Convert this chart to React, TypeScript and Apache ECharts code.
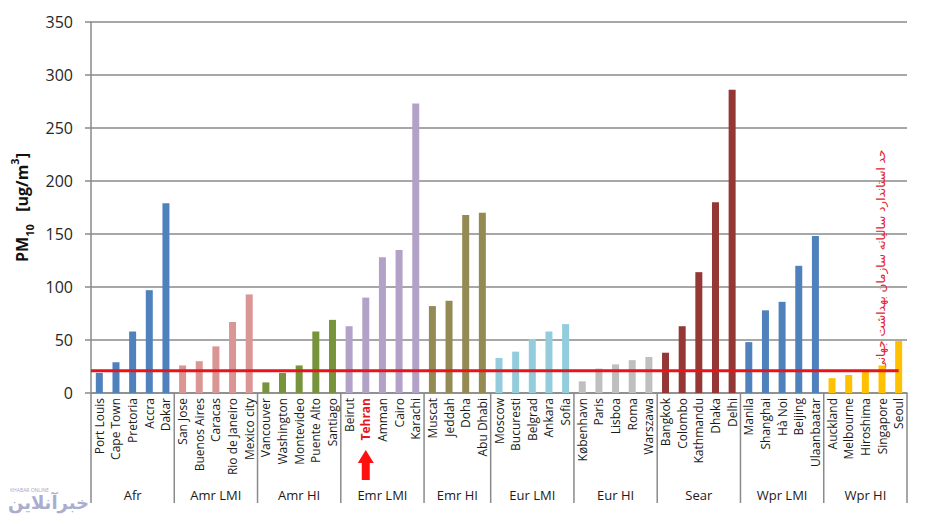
import React, { useEffect, useRef } from 'react';
import * as echarts from 'echarts';

const cities = [
  'Port Louis', 'Cape Town', 'Pretoria', 'Accra', 'Dakar',
  'San Jose', 'Buenos Aires', 'Caracas', 'Rio de Janeiro', 'Mexico city',
  'Vancouver', 'Washington', 'Montevideo', 'Puente Alto', 'Santiago',
  'Beirut', 'Tehran', 'Amman', 'Cairo', 'Karachi',
  'Muscat', 'Jeddah', 'Doha', 'Abu Dhabi',
  'Moscow', 'Bucuresti', 'Belgrad', 'Ankara', 'Sofia',
  'København', 'Paris', 'Lisboa', 'Roma', 'Warszawa',
  'Bangkok', 'Colombo', 'Kathmandu', 'Dhaka', 'Delhi',
  'Manila', 'Shanghai', 'Hà Noi', 'Beijing', 'Ulaanbaatar',
  'Auckland', 'Melbourne', 'Hiroshima', 'Singapore', 'Seoul',
];

const pm10Values = [
  19, 29, 58, 97, 179,
  26, 30, 44, 67, 93,
  10, 19, 26, 58, 69,
  63, 90, 128, 135, 273,
  82, 87, 168, 170,
  33, 39, 51, 58, 65,
  11, 23, 27, 31, 34,
  38, 63, 114, 180, 286,
  48, 78, 86, 120, 148,
  14, 17, 22, 26, 49,
];

const groupNames = ['Afr', 'Amr LMI', 'Amr HI', 'Emr LMI', 'Emr HI', 'Eur LMI', 'Eur HI', 'Sear', 'Wpr LMI', 'Wpr HI'];
const groupSizes = [5, 5, 5, 5, 4, 5, 5, 5, 5, 5];
const groupColors = ['#4F81BD', '#D99694', '#77933C', '#B3A2C7', '#948A54', '#93CDDD', '#BFBFBF', '#953735', '#4F81BD', '#FFC000'];

const whoLimit = 21;
const highlightCity = 'Tehran';
const guidelineText = 'حد استاندارد سالیانه سازمان بهداشت جهانی';

const FONT = '"Open Sans", "DejaVu Sans", sans-serif';
const GRID_COLOR = '#8a8a8a';

export default function App() {
  const ref = useRef<HTMLDivElement>(null);
  useEffect(() => {
    const chart = echarts.init(ref.current!, null, { renderer: 'svg' });
    const barColors: string[] = [];
    groupSizes.forEach((n, g) => {
      for (let i = 0; i < n; i++) barColors.push(groupColors[g]);
    });
    chart.setOption({
      animation: false,
      grid: { left: 91, right: 21, top: 22, bottom: 131, containLabel: false },
      xAxis: {
        type: 'category',
        data: cities,
        axisLine: { lineStyle: { color: GRID_COLOR, width: 1.5 } },
        axisTick: { show: false },
        axisLabel: {
          interval: 0,
          rotate: 90,
          margin: 5,
          fontSize: 12,
          fontFamily: FONT,
          color: '#1a1a1a',
          formatter: (v: string) => (v === highlightCity ? `{h|${v}}` : v),
          rich: {
            h: { color: '#e8141b', fontWeight: 'bold', fontSize: 12, fontFamily: FONT },
          },
        },
      },
      yAxis: {
        type: 'value',
        min: 0,
        max: 350,
        interval: 50,
        axisLine: { show: true, lineStyle: { color: GRID_COLOR, width: 1.5 } },
        axisTick: { show: true, length: 6, lineStyle: { color: GRID_COLOR, width: 1.5 } },
        splitLine: { lineStyle: { color: GRID_COLOR, width: 1.5 } },
        axisLabel: { margin: 18, fontSize: 16, fontFamily: FONT, color: '#262626' },
        name: '{a|PM}{s|10}{a|   [ug/m}{p|3}{a|]}',
        nameLocation: 'middle',
        nameRotate: 90,
        nameGap: 55,
        nameTextStyle: {
          rich: {
            a: { fontSize: 16, fontWeight: 'bold', fontFamily: FONT, color: '#111', lineHeight: 26, verticalAlign: 'middle' },
            s: { fontSize: 11, fontWeight: 'bold', fontFamily: FONT, color: '#111', lineHeight: 26, verticalAlign: 'bottom' },
            p: { fontSize: 11, fontWeight: 'bold', fontFamily: FONT, color: '#111', lineHeight: 26, verticalAlign: 'top' },
          },
        },
      },
      series: [
        {
          type: 'bar',
          barWidth: 7,
          data: pm10Values.map((v, i) => ({ value: v, itemStyle: { color: barColors[i] } })),
        },
      ],
    });

    const cx = (i: number) => chart.convertToPixel({ xAxisIndex: 0 }, i) as number;
    const half = (cx(1) - cx(0)) / 2;
    const yBase = chart.convertToPixel({ yAxisIndex: 0 }, 0) as number;
    const yLimit = chart.convertToPixel({ yAxisIndex: 0 }, whoLimit) as number;
    const sepBottom = yBase + 110;
    const groupLabelY = yBase + 102;

    const graphics: any[] = [];
    let start = 0;
    groupSizes.forEach((n, g) => {
      const left = cx(start) - half;
      graphics.push({
        type: 'line',
        shape: { x1: left, y1: yBase, x2: left, y2: sepBottom },
        style: { stroke: GRID_COLOR, lineWidth: 1.5 },
      });
      const mid = (cx(start) + cx(start + n - 1)) / 2;
      graphics.push({
        type: 'text',
        x: mid,
        y: groupLabelY,
        style: { text: groupNames[g], fontSize: 13, fontFamily: FONT, fill: '#1a1a1a', align: 'center', verticalAlign: 'middle' },
      });
      start += n;
    });
    const right = cx(cities.length - 1) + half;
    graphics.push({
      type: 'line',
      shape: { x1: right, y1: yBase, x2: right, y2: sepBottom },
      style: { stroke: GRID_COLOR, lineWidth: 1.5 },
    });
    // WHO guideline line
    graphics.push({
      type: 'line',
      z: 100,
      shape: { x1: cx(0) - half, y1: yLimit, x2: cx(cities.length - 1), y2: yLimit },
      style: { stroke: '#e8141b', lineWidth: 3 },
    });
    // red arrow under Tehran
    const tx = cx(cities.indexOf(highlightCity));
    const aTop = yBase + 57;
    graphics.push({
      type: 'polygon',
      shape: {
        points: [
          [tx, aTop],
          [tx + 8, aTop + 13],
          [tx + 4, aTop + 13],
          [tx + 4, aTop + 30],
          [tx - 4, aTop + 30],
          [tx - 4, aTop + 13],
          [tx - 8, aTop + 13],
        ],
      },
      style: { fill: '#ff1010' },
    });
    // Persian guideline label
    graphics.push({
      type: 'text',
      x: 881,
      y: 260,
      rotation: Math.PI / 2,
      style: {
        text: guidelineText,
        fontSize: 12,
        fontFamily: '"DejaVu Sans", sans-serif',
        fill: '#e3262b',
        align: 'center',
        verticalAlign: 'middle',
      },
    });
    // watermark
    graphics.push({
      type: 'text',
      x: 10,
      y: 487,
      style: { text: 'KHABAR ONLINE', fontSize: 5, fontFamily: FONT, fill: '#a3a8c8' },
    });
    graphics.push({
      type: 'text',
      x: 8,
      y: 493,
      style: { text: 'خبرآنلاین', fontSize: 18, fontWeight: 'bold', fontFamily: '"DejaVu Sans", sans-serif', fill: '#a9aed0' },
    });

    chart.setOption({ graphic: graphics });
    return () => chart.dispose();
  }, []);
  return (
    <div
      ref={ref}
      style={{ position: 'fixed', left: 0, top: 0, width: 928, height: 524, background: '#fff' }}
    />
  );
}
